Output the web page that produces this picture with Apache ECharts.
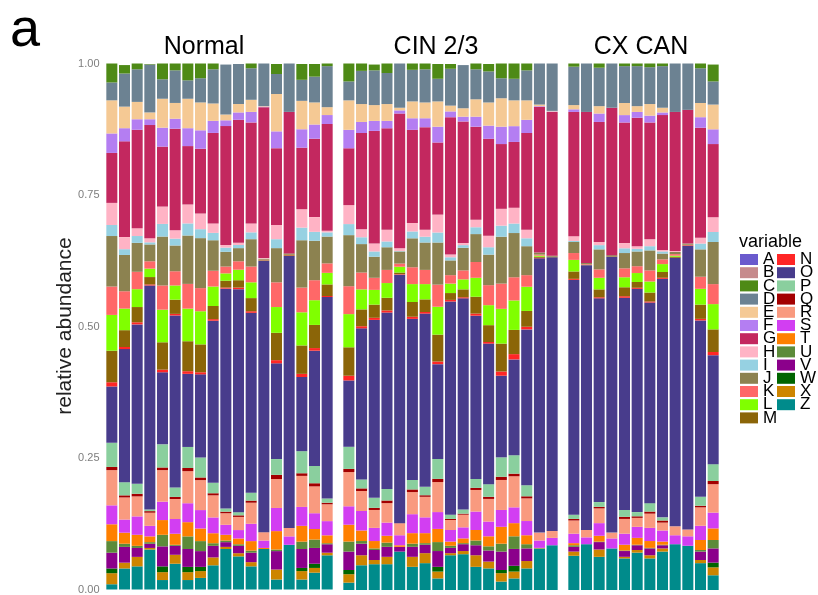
<!DOCTYPE html>
<html>
<head>
<meta charset="utf-8">
<script src="https://cdn.jsdelivr.net/npm/echarts@6/dist/echarts.min.js"></script>
<style>
  html, body { margin: 0; padding: 0; background: #ffffff; }
  #chart { width: 818px; height: 595px; }
</style>
</head>
<body>
<div id="chart"></div>
<script>
// Samples in each facet
const normalSamples = ['N1','N2','N3','N4','N5','N6','N7','N8','N9','N10','N11','N12','N13','N14','N15','N16','N17','N18'];
const cinSamples = ['C1','C2','C3','C4','C5','C6','C7','C8','C9','C10','C11','C12','C13','C14','C15','C16','C17'];
const cancerSamples = ['X1','X2','X3','X4','X5','X6','X7','X8','X9','X10','X11','X12'];
const facetTitles = ['Normal', 'CIN 2/3', 'CX CAN'];
const yTickValues = [0, 0.25, 0.5, 0.75, 1];

const variableNames = ['A','B','C','D','E','F','G','H','I','J','K','L','M','N','O','P','Q','R','S','T','U','V','W','X','Z'];
const variableColors = ['#6A5ACD','#C68A8C','#4E8A16','#6C8292','#F5C994','#B47EF2','#C3285F','#FFB3C5','#96D1E2','#8C8250',
  '#FF6868','#80FF00','#8B6508','#FF2626','#483C8C','#8ACF9E','#A30000','#F99A7F','#D23EF2','#FF8000',
  '#5C8B3A','#8B008B','#006400','#CD8500','#008B8B'];

// Relative abundance per variable; 18 Normal, then 17 CIN 2/3, then 12 CX CAN samples
const abA = [0,0,0,0,0,0,0,0,0,0,0,0,0,0,0,0,0,0,
             0,0,0,0,0,0,0,0,0,0,0,0,0,0,0,0,0,
             0,0,0,0,0,0,0,0,0,0,0,0];
const abB = [0,0,0,0,0,0,0,0,0,0,0,0,0,0,0,0,0,0,
             0,0,0,0,0,0,0,0,0,0,0,0,0,0,0,0,0,
             0,0,0,0,0,0,0,0,0,0,0,0];
const abC = [.036,.016,.011,.001,.030,.013,.033,.028,.011,0,0,.009,0,.019,0,.030,.024,.008,
             .035,.014,.011,.018,0,.013,.011,.028,.009,0,.011,.014,.028,.030,.014,0,0,
             .006,.001,.009,.001,.008,.008,.009,.006,.001,.001,.009,.032];
const abD = [.034,.063,.062,.091,.037,.062,.035,.046,.065,.095,.076,.060,.081,.038,.092,.040,.049,.078,
             .036,.063,.066,.059,.084,.060,.063,.043,.070,.082,.057,.059,.038,.041,.057,.079,.091,
             .073,.092,.073,.085,.070,.076,.070,.079,.092,.089,.066,.044];
const abE = [.063,.041,.033,.013,.055,.030,.056,.053,.033,.011,.016,.023,.001,.071,0,.054,.042,.015,
             .056,.034,.030,.032,.005,.032,.030,.048,.011,.016,.033,.044,.054,.049,.037,.003,.001,
             .008,0,.014,0,.023,.011,.022,.009,0,0,.027,.047];
const abF = [.037,.025,.020,.011,.036,.019,.034,.035,.023,.011,.014,.020,.001,.032,0,.035,.027,.017,
             .035,.021,.019,.014,.006,.022,.017,.030,.011,.009,.019,.025,.033,.030,.025,.001,.001,
             .005,0,.016,0,.014,.011,.013,.005,0,0,.020,.028];
const abG = [.095,.182,.187,.215,.114,.193,.111,.123,.172,.226,.234,.192,.287,.146,.269,.117,.149,.203,
             .108,.183,.214,.193,.256,.177,.195,.137,.261,.231,.177,.184,.123,.125,.184,.277,.273,
             .236,.287,.228,.280,.229,.244,.222,.256,.264,.254,.209,.139];
const abH = [.042,.023,.015,.008,.033,.016,.036,.030,.018,.005,.004,.017,.001,.027,0,.035,.028,.003,
             .036,.015,.015,.022,.005,.016,.013,.034,.005,.004,.014,.022,.032,.030,.016,0,0,
             .009,0,.006,0,.010,.005,.013,.003,.002,0,.011,.028];
const abI = [.021,.011,.013,.004,.024,.013,.023,.017,.014,.008,.006,.013,0,.017,0,.024,.017,.008,
             .021,.013,.010,.011,.001,.013,.011,.019,.006,.005,.013,.014,.021,.018,.015,0,0,
             .002,0,.008,0,.009,.005,.008,.004,0,0,.011,.019];
const abJ = [.096,.069,.055,.032,.093,.049,.092,.095,.058,.028,.025,.052,.002,.065,.002,.090,.075,.051,
             .097,.054,.040,.043,.023,.055,.052,.080,.028,.043,.053,.058,.089,.084,.055,.004,.002,
             .021,.002,.038,.002,.029,.028,.038,.011,.004,.002,.052,.080];
const abK = [.054,.033,.033,.014,.046,.027,.047,.044,.030,.013,.016,.030,.001,.047,0,.047,.038,.018,
             .053,.032,.023,.025,.006,.032,.027,.042,.016,.017,.030,.038,.048,.044,.022,.002,0,
             .013,.001,.016,0,.017,.013,.021,.009,.003,0,.023,.038];
const abL = [.068,.041,.034,.016,.062,.027,.062,.063,.037,.014,.020,.030,0,.049,0,.063,.047,.022,
             .063,.038,.028,.028,.011,.034,.029,.053,.018,.019,.036,.038,.066,.056,.046,.002,0,
             .022,0,.022,0,.019,.017,.021,.015,.002,0,.030,.048];
const abM = [.060,.032,.029,.014,.052,.027,.057,.053,.025,.013,.014,.025,.001,.052,.002,.054,.044,.022,
             .054,.032,.025,.024,.003,.028,.024,.051,.013,.015,.032,.032,.053,.046,.030,.002,.001,
             .014,.001,.015,.001,.017,.011,.017,.011,.002,.001,.027,.043];
const abN = [.008,.004,.004,.002,.005,.003,.005,.004,.003,.002,.003,.003,0,.006,.001,.006,.005,.002,
             .009,.004,.004,.004,.001,.004,.003,.005,.003,.002,.004,.003,.008,.010,.005,.001,0,
             .002,0,.002,0,.003,.002,.002,.002,0,.001,.003,.006];
const abO = [.107,.253,.303,.426,.137,.327,.139,.158,.308,.418,.424,.342,.516,.182,.517,.141,.219,.383,
             .126,.287,.338,.335,.472,.306,.329,.180,.405,.401,.310,.267,.155,.182,.296,.521,.520,
             .446,.503,.387,.524,.403,.424,.381,.453,.510,.539,.335,.207];
const abP = [.046,.025,.019,.003,.044,.018,.040,.038,.020,.006,.006,.015,0,.030,0,.042,.033,.008,
             .042,.017,.019,.022,0,.018,.016,.038,.008,.008,.017,.024,.037,.035,.021,0,0,
             .008,0,.009,0,.013,.008,.016,.006,0,0,.017,.032];
const abQ = [.006,.004,.005,.003,.005,.004,.006,.005,.004,.003,.003,.004,0,.008,0,.005,.006,.003,
             .006,.005,.004,.005,0,.005,.003,.006,.002,.002,.004,.004,.006,.005,.004,0,0,
             .003,0,.003,0,.004,.003,.004,.004,0,0,.003,.006];
const abR = [.067,.042,.038,.025,.060,.038,.061,.057,.042,.022,.025,.040,.016,.055,.016,.059,.051,.032,
             .065,.038,.034,.037,.023,.042,.039,.057,.019,.024,.041,.043,.057,.059,.043,.015,.013,
             .025,.014,.028,.011,.028,.017,.027,.015,.017,.013,.035,.054];
const abS = [.036,.025,.035,.020,.035,.028,.036,.035,.030,.019,.016,.033,.014,.044,.016,.036,.030,.027,
             .035,.037,.025,.025,.019,.036,.030,.032,.022,.021,.035,.028,.032,.030,.027,.014,.014,
             .018,.013,.024,.019,.021,.021,.025,.021,.017,.018,.027,.030];
const abT = [.032,.021,.021,.011,.028,.021,.027,.024,.019,.011,.011,.018,.002,.035,0,.030,.020,.015,
             .032,.020,.014,.013,.003,.020,.019,.025,.008,.009,.020,.019,.032,.025,.017,.001,0,
             .004,0,.011,0,.011,.013,.013,.006,0,0,.019,.022];
const abU = [.022,.006,.004,.003,.022,.002,.024,.019,.005,.003,.003,.004,0,.003,0,.014,.016,.002,
             .019,.005,.003,.008,0,.006,.003,.017,.004,.002,.009,.008,.015,.024,.008,0,0,
             .003,0,.001,0,.001,.001,.001,.001,0,0,.003,.016];
const abV = [.030,.030,.017,.008,.038,.017,.034,.030,.022,.009,.014,.018,0,.035,0,.036,.030,.016,
             .035,.022,.019,.019,.009,.019,.016,.030,.010,.013,.019,.021,.035,.032,.024,0,0,
             .009,0,.014,0,.011,.009,.013,.006,0,0,.016,.027];
const abW = [.009,0,0,0,.011,0,.010,.008,0,0,0,0,0,0,0,.006,.008,0,
             .008,0,0,0,0,0,0,.009,0,0,0,0,.006,.011,0,0,0,
             0,0,0,0,0,0,0,0,0,0,0,.009];
const abX = [.021,.011,.018,.003,.015,.017,.015,.013,.015,.004,.006,.008,0,.019,0,.016,.009,.005,
             .016,.019,.008,.014,0,.019,.019,.013,.004,.006,.022,.013,.016,.013,.014,0,0,
             .008,0,.014,0,.003,.005,.006,.006,0,0,.006,.015];
const abZ = [.010,.040,.044,.076,.018,.049,.018,.022,.046,.077,.063,.044,.077,.019,.085,.019,.032,.065,
             .014,.047,.049,.049,.073,.044,.051,.022,.066,.068,.044,.041,.016,.022,.041,.079,.085,
             .065,.087,.063,.079,.060,.071,.060,.073,.087,.084,.051,.028];

const abundanceByVariable = [abA,abB,abC,abD,abE,abF,abG,abH,abI,abJ,abK,abL,abM,abN,abO,abP,abQ,abR,abS,abT,abU,abV,abW,abX,abZ];

const FONT = '"Liberation Sans", Arial, Helvetica, sans-serif';
const NARROW = '"Liberation Sans Narrow", "Liberation Sans", Arial, sans-serif';

// facet layout: each panel gets a width proportional to its sample count
const facets = [
  { samples: normalSamples, left: 105.5, width: 228, titleX: 204 },
  { samples: cinSamples, left: 342.5, width: 216, titleX: 436 },
  { samples: cancerSamples, left: 567.5, width: 152, titleX: 641 }
];
const plotTop = 63.5, plotHeight = 526.5;

const grids = [], xAxes = [], yAxes = [], series = [];
let offset = 0;
facets.forEach((f, gi) => {
  grids.push({ left: f.left, top: plotTop, width: f.width, height: plotHeight, containLabel: false });
  xAxes.push({
    type: 'category', gridIndex: gi, data: f.samples,
    axisLine: { show: false }, axisTick: { show: false }, axisLabel: { show: false }, splitLine: { show: false }
  });
  yAxes.push({
    type: 'value', gridIndex: gi, min: yTickValues[0], max: yTickValues[yTickValues.length - 1], interval: 0.25,
    axisLine: { show: false }, axisTick: { show: false }, splitLine: { show: false },
    axisLabel: {
      show: gi === 0, color: '#7d7d7d', fontSize: 11, fontFamily: FONT, margin: 6,
      formatter: v => v.toFixed(2)
    }
  });
  // stack from the bottom: Z first, A last
  for (let vi = variableNames.length - 1; vi >= 0; vi--) {
    series.push({
      type: 'bar',
      name: variableNames[vi],
      stack: 'facet' + gi,
      xAxisIndex: gi, yAxisIndex: gi,
      barCategoryGap: '13%',
      itemStyle: { color: variableColors[vi] },
      emphasis: { disabled: true },
      data: abundanceByVariable[vi].slice(offset, offset + f.samples.length)
    });
  }
  offset += f.samples.length;
});

const legendCommon = {
  orient: 'vertical', icon: 'rect', itemWidth: 18, itemHeight: 11, itemGap: -3.8,
  padding: 0, selectedMode: false,
  textStyle: { fontSize: 17, fontFamily: NARROW, color: '#000' }
};

const graphics = [
  { type: 'text', x: 10, y: 31, style: { text: 'a', font: '54px ' + FONT, fill: '#000', textAlign: 'left', textVerticalAlign: 'middle' } },
  { type: 'text', x: 65, y: 326, rotation: Math.PI / 2,
    style: { text: 'relative abundance', font: '21px ' + FONT, fill: '#222', textAlign: 'center', textVerticalAlign: 'middle' } },
  { type: 'text', x: 739, y: 242, style: { text: 'variable', font: '18px ' + FONT, fill: '#000', textAlign: 'left', textVerticalAlign: 'middle' } }
];
facets.forEach((f, gi) => {
  graphics.push({ type: 'text', x: f.titleX, y: 47,
    style: { text: facetTitles[gi], font: '25px ' + FONT, fill: '#000', textAlign: 'center', textVerticalAlign: 'middle' } });
});

const chart = echarts.init(document.getElementById('chart'), null, { renderer: 'canvas' });
chart.setOption({
  backgroundColor: '#ffffff',
  animation: false,
  grid: grids,
  xAxis: xAxes,
  yAxis: yAxes,
  legend: [
    Object.assign({}, legendCommon, { left: 740, top: 251, data: variableNames.slice(0, 13) }),
    Object.assign({}, legendCommon, { left: 777, top: 251, data: variableNames.slice(13) })
  ],
  graphic: graphics,
  series: series
});
</script>
</body>
</html>
